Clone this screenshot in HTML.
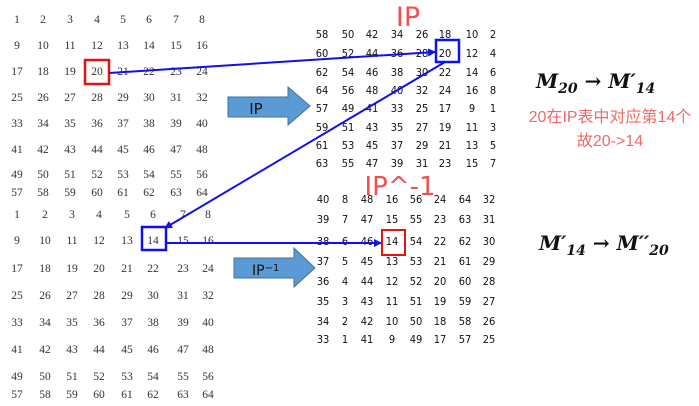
<!DOCTYPE html>
<html><head><meta charset="utf-8"><style>
html,body{margin:0;padding:0;background:#fff;}
svg{display:block;}
.s{font-family:"Liberation Serif",serif;font-size:11.5px;fill:#333;}
.t{font-family:"DejaVu Sans Condensed","Liberation Sans",sans-serif;font-size:11px;fill:#111;}
</style></head><body>
<svg id="c" width="699" height="406" viewBox="0 0 699 406">
<defs><marker id="ah" markerWidth="8" markerHeight="8" refX="7" refY="4" orient="auto" markerUnits="userSpaceOnUse"><path d="M0,0 L8,4 L0,8 Z" fill="#1010ee"/></marker></defs>
<g id="g1"></g>
<g id="g2"></g>
<g id="g3"></g>
<g id="g4"></g>
<text x="408" y="26" font-family="DejaVu Sans,sans-serif" font-size="27" fill="#f05050" text-anchor="middle">IP</text>
<text x="400" y="195" font-family="DejaVu Sans,sans-serif" font-size="26" fill="#f05050" text-anchor="middle">IP^-1</text>
<rect x="85" y="60" width="24" height="24" fill="none" stroke="#e81010" stroke-width="2.5"/>
<rect x="142" y="227" width="24" height="23" fill="none" stroke="#1010ee" stroke-width="2.5"/>
<rect x="436" y="40" width="23" height="22" fill="none" stroke="#1010ee" stroke-width="2.5"/>
<rect x="382" y="230" width="23" height="25" fill="none" stroke="#e81010" stroke-width="2"/>
<line x1="109" y1="73" x2="435" y2="52" stroke="#1010ee" stroke-width="2" marker-end="url(#ah)"/>
<line x1="445" y1="62" x2="165" y2="228" stroke="#1010ee" stroke-width="2" marker-end="url(#ah)"/>
<line x1="166" y1="243" x2="381" y2="243" stroke="#1010ee" stroke-width="2" marker-end="url(#ah)"/>
<g><path d="M228,97 L288,97 L288,87 L310,106 L288,125 L288,117 L228,117 Z" fill="#5b9bd5" stroke="#41719c"/><text x="256" y="114" font-family="DejaVu Sans,sans-serif" font-size="15" fill="#111" text-anchor="middle">IP</text></g>
<g><path d="M234,258 L294,258 L294,248 L315,268 L294,287 L294,278 L234,278 Z" fill="#5b9bd5" stroke="#41719c"/><text x="252" y="275" font-family="DejaVu Sans,sans-serif" font-size="14" fill="#111">IP<tspan font-size="10" dy="-4">−1</tspan></text></g>
<text x="536" y="88" font-family="DejaVu Serif,serif" font-size="20" font-weight="bold" font-style="italic" fill="#111">M<tspan font-size="14" dy="5">20</tspan><tspan dy="-5" font-style="normal"> → </tspan>M′<tspan font-size="14" dy="5">14</tspan></text>
<text x="610" y="122" font-family="Liberation Sans,'Noto Sans CJK SC',sans-serif" font-size="16" fill="#f06a6a" text-anchor="middle">20在IP表中对应第14个</text>
<text x="610" y="146" font-family="Liberation Sans,'Noto Sans CJK SC',sans-serif" font-size="16" fill="#f06a6a" text-anchor="middle">故20-&gt;14</text>
<text x="539" y="250" font-family="DejaVu Serif,serif" font-size="20" font-weight="bold" font-style="italic" fill="#111">M′<tspan font-size="14" dy="5">14</tspan><tspan dy="-5" font-style="normal"> → </tspan>M′′<tspan font-size="14" dy="5">20</tspan></text>
</svg>
<script>
const ipTable=[58,50,42,34,26,18,10,2,60,52,44,36,28,20,12,4,62,54,46,38,30,22,14,6,64,56,48,40,32,24,16,8,57,49,41,33,25,17,9,1,59,51,43,35,27,19,11,3,61,53,45,37,29,21,13,5,63,55,47,39,31,23,15,7];
const ipInvTable=[40,8,48,16,56,24,64,32,39,7,47,15,55,23,63,31,38,6,46,14,54,22,62,30,37,5,45,13,53,21,61,29,36,4,44,12,52,20,60,28,35,3,43,11,51,19,59,27,34,2,42,10,50,18,58,26,33,1,41,9,49,17,57,25];
const bits=[];for(let i=1;i<=64;i++)bits.push(i);
const NS='http://www.w3.org/2000/svg';
function draw(gid,vals,xs,ys,cls,name){
 const g=document.getElementById(gid);
 vals.forEach((v,i)=>{const t=document.createElementNS(NS,'text');
 t.setAttribute('x',xs[i%8]);t.setAttribute('y',ys[Math.floor(i/8)]+4);
 t.setAttribute('text-anchor','middle');t.setAttribute('class',cls);
 if(Math.floor(i/8)===7&&cls==='s')t.setAttribute('fill','#777');
 t.textContent=v;
 
 
 g.appendChild(t);});
}
draw('g1',bits,[17,43,70,97,123,149,176,202],[19,45,71,97,123,149,174,192],'s','bit-cell');
draw('g2',bits,[17,45,72,99,127,153,183,208],[214,240,268,295,322,349,376,394],'s','bit-cell');
draw('g3',ipTable,[322,348,372,397,422,445,472,493],[34,53,72,90,108,127,145,163],'t','ip-cell');
draw('g4',ipInvTable,[323,345,367,392,416,440,465,489],[199,219,241,261,281,301,321,339],'t','ip-inverse-cell');
</script>
</body></html>
